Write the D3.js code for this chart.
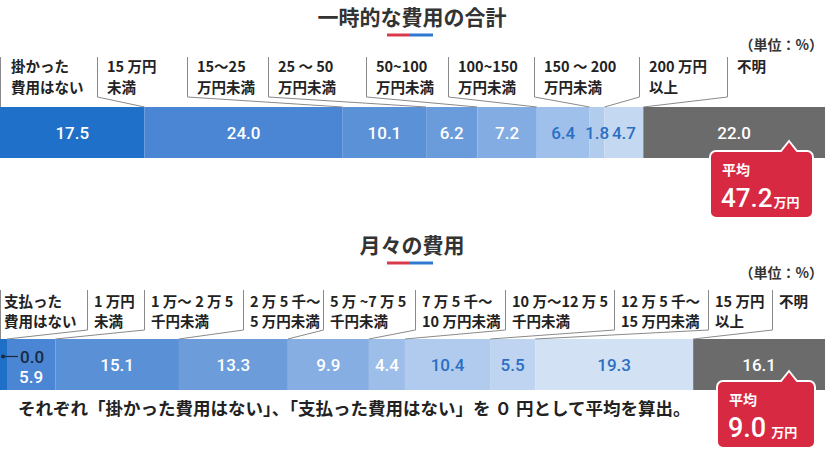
<!DOCTYPE html>
<html>
<head>
<meta charset="utf-8">
<script src="https://cdn.jsdelivr.net/npm/d3@7"></script>
<style>
  body { margin: 0; background: #fff; }
  svg text { font-family: "Noto Sans CJK JP", "Noto Sans", sans-serif; }
  .num { font-family: Roboto, "Noto Sans", sans-serif; font-weight: 500; }
</style>
</head>
<body>
<div id="chart"></div>
<script>
// 一時的な費用の合計
var title_once      = "一時的な費用の合計";
var categories_once = [
  ["掛かった", "費用はない"], ["15 万円", "未満"], ["15〜25", "万円未満"],
  ["25 〜 50", "万円未満"], ["50~100", "万円未満"], ["100~150", "万円未満"],
  ["150 〜 200", "万円未満"], ["200 万円", "以上"], ["不明"]
];
var values_once  = [17.5, 24.0, 10.1, 6.2, 7.2, 6.4, 1.8, 4.7, 22.0];
var average_once = "47.2";

// 月々の費用
var title_monthly      = "月々の費用";
var categories_monthly = [
  ["支払った", "費用はない"], ["1 万円", "未満"], ["1 万〜 2 万 5", "千円未満"],
  ["2 万 5 千〜", "5 万円未満"], ["5 万 ~7 万 5", "千円未満"], ["7 万 5 千〜", "10 万円未満"],
  ["10 万〜12 万 5", "千円未満"], ["12 万 5 千〜", "15 万円未満"], ["15 万円", "以上"], ["不明"]
];
var values_monthly  = [0.0, 5.9, 15.1, 13.3, 9.9, 4.4, 10.4, 5.5, 19.3, 16.1];
var average_monthly = "9.0";

var unit_label = "（単位：%）";
var footnote   = "それぞれ「掛かった費用はない」、「支払った費用はない」を ０ 円として平均を算出。";

var width  = 825;
var height = 451;
var blue_text = "#2a6fc2";

var svg = d3.select("#chart").append("svg")
  .attr("width", width)
  .attr("height", height);

function draw_panel (opt) {
  var g = svg.append("g").attr("transform", "translate(0," + opt.top + ")");

  var x = d3.scaleLinear()
    .domain([0, d3.sum(opt.values)])
    .range([opt.x_start, width]);

  var stack = [];
  var acc = 0;
  opt.values.forEach(function (v, i) {
    stack.push({ i: i, v: v, x0: acc, x1: acc + v });
    acc += v;
  });

  // title and its two tone underline
  g.append("text")
    .attr("x", 412).attr("y", 25)
    .attr("text-anchor", "middle")
    .style("font-size", "21px").style("font-weight", 700).style("fill", "#333")
    .text(opt.title);
  g.append("line").attr("x1", 387).attr("x2", 410).attr("y1", 35).attr("y2", 35)
    .style("stroke", "#d83a4a").style("stroke-width", 3);
  g.append("line").attr("x1", 410).attr("x2", 433).attr("y1", 35).attr("y2", 35)
    .style("stroke", "#2f78d0").style("stroke-width", 3);

  g.append("text")
    .attr("x", 823).attr("y", 50)
    .attr("text-anchor", "end")
    .style("font-size", "14px").style("font-weight", 700).style("fill", "#333")
    .text(unit_label);

  var bar_top = opt.bar_top;
  var bar_h = 51;

  // segments
  g.selectAll("rect.seg").data(stack).enter().append("rect")
    .attr("class", "seg")
    .attr("x", function (d) { return d.i === 0 ? 0 : x(d.x0); })
    .attr("y", bar_top)
    .attr("width", function (d) { return x(d.x1) - (d.i === 0 ? 0 : x(d.x0)); })
    .attr("height", bar_h)
    .style("fill", function (d) { return opt.colors[d.i]; });

  // label separators: vertical then slanted to the segment start
  var line = d3.line();
  g.selectAll("path.sep").data(stack).enter().append("path")
    .attr("class", "sep")
    .attr("d", function (d) {
      var lx = opt.label_x[d.i] + 0.5;
      var bx = d.i === 0 ? 0.5 : x(d.x0);
      return line([[lx, opt.sep_top], [lx, opt.sep_bottom], [bx, bar_top]]);
    })
    .style("fill", "none").style("stroke", "#8a8a8a").style("stroke-width", 1);

  // category labels
  var labels = g.selectAll("text.cat").data(stack).enter().append("text")
    .attr("class", "cat")
    .style("font-size", "14.5px").style("font-weight", 700).style("fill", "#222");
  labels.each(function (d) {
    var t = d3.select(this);
    var lx = opt.label_x[d.i] + (d.i === 0 ? opt.first_pad : opt.label_pad);
    opt.categories[d.i].forEach(function (s, k) {
      t.append("tspan").attr("x", lx).attr("y", opt.label_y[k]).text(s);
    });
  });

  // values
  var cy = bar_top + bar_h / 2;
  g.selectAll("text.val").data(stack).enter().append("text")
    .attr("class", "val num")
    .attr("x", function (d) { return opt.small_first && d.i === 0 ? 20 : (x(d.x0) + x(d.x1)) / 2; })
    .attr("y", function (d) {
      if (opt.small_first && d.i === 0) return cy - 2;
      if (opt.small_first && d.i === 1) return cy + 18;
      return cy + 6;
    })
    .attr("text-anchor", function (d) { return opt.small_first && d.i === 0 ? "start" : "middle"; })
    .style("font-size", "17px")
    .style("fill", function (d) { return opt.text_colors[d.i]; })
    .text(function (d) { return d3.format(".1f")(d.v); });

  if (opt.small_first) {
    g.append("line").attr("x1", 3).attr("x2", 18).attr("y1", cy - 8).attr("y2", cy - 8)
      .style("stroke", "#1a2a40").style("stroke-width", 1.2);
    g.append("circle").attr("cx", 3).attr("cy", cy - 8).attr("r", 2).style("fill", "#1a2a40");
  }

  // average callout
  var c = opt.callout;
  var r = 6;
  var path = d3.path();
  path.moveTo(c.x + r, c.y);
  path.lineTo(c.tip - 8, c.y);
  path.lineTo(c.tip, c.y - 10);
  path.lineTo(c.tip + 8, c.y);
  path.lineTo(c.x + c.w - r, c.y);
  path.arcTo(c.x + c.w, c.y, c.x + c.w, c.y + r, r);
  path.lineTo(c.x + c.w, c.y + c.h - r);
  path.arcTo(c.x + c.w, c.y + c.h, c.x + c.w - r, c.y + c.h, r);
  path.lineTo(c.x + r, c.y + c.h);
  path.arcTo(c.x, c.y + c.h, c.x, c.y + c.h - r, r);
  path.lineTo(c.x, c.y + r);
  path.arcTo(c.x, c.y, c.x + r, c.y, r);
  path.closePath();
  g.append("path").attr("d", path.toString())
    .style("fill", "#d72a42").style("stroke", "#fff").style("stroke-width", 2);
  g.append("text")
    .attr("x", c.x + 12).attr("y", c.y + 24)
    .style("font-size", "14px").style("font-weight", 700).style("fill", "#fff")
    .text("平均");
  var avg = g.append("text")
    .attr("x", c.x + 11).attr("y", c.y + 56)
    .style("fill", "#fff");
  avg.append("tspan").attr("class", "num").style("font-size", c.size + "px").text(opt.average);
  avg.append("tspan").attr("dx", c.gap).style("font-size", "13px").style("font-weight", 700).text("万円");

  return g;
}

draw_panel({
  top: 0,
  title: title_once,
  categories: categories_once,
  values: values_once,
  average: average_once,
  x_start: 0,
  bar_top: 107,
  sep_top: 57,
  sep_bottom: 97,
  label_x: [0, 97, 187, 268, 366, 448, 534, 639, 727],
  label_y: [72, 93],
  label_pad: 10,
  first_pad: 11,
  small_first: false,
  colors: ["#1f70c8", "#4a86d3", "#5b91d6", "#6a9bda", "#82ace2", "#9fc0ea", "#b2ccee", "#c5d8f2", "#6b6b6b"],
  text_colors: ["#fff", "#fff", "#fff", "#fff", "#fff", blue_text, blue_text, blue_text, "#fff"],
  callout: { x: 710, y: 151, w: 103, h: 67, tip: 789, size: 26, gap: 1 }
});

draw_panel({
  top: 228,
  title: title_monthly,
  categories: categories_monthly,
  values: values_monthly,
  average: average_monthly,
  x_start: 7,
  bar_top: 111,
  sep_top: 62,
  sep_bottom: 102,
  label_x: [0, 87, 144, 243, 323, 415, 505, 614, 708, 772],
  label_y: [79, 99],
  label_pad: 7,
  first_pad: 4,
  small_first: true,
  colors: ["#1f6fc6", "#4a86d3", "#5a90d6", "#6c9dda", "#86aee2", "#9dbee8", "#b0cbee", "#bed4f0", "#d2e1f4", "#6b6b6b"],
  text_colors: ["#1a2a40", "#fff", "#fff", "#fff", "#fff", "#fff", blue_text, blue_text, blue_text, "#fff"],
  callout: { x: 717, y: 153, w: 98, h: 67, tip: 789, size: 27, gap: 5 }
});

svg.append("text")
  .attr("x", 18).attr("y", 415)
  .style("font-size", "17.5px").style("font-weight", 700).style("fill", "#222")
  .text(footnote);
</script>
</body>
</html>
